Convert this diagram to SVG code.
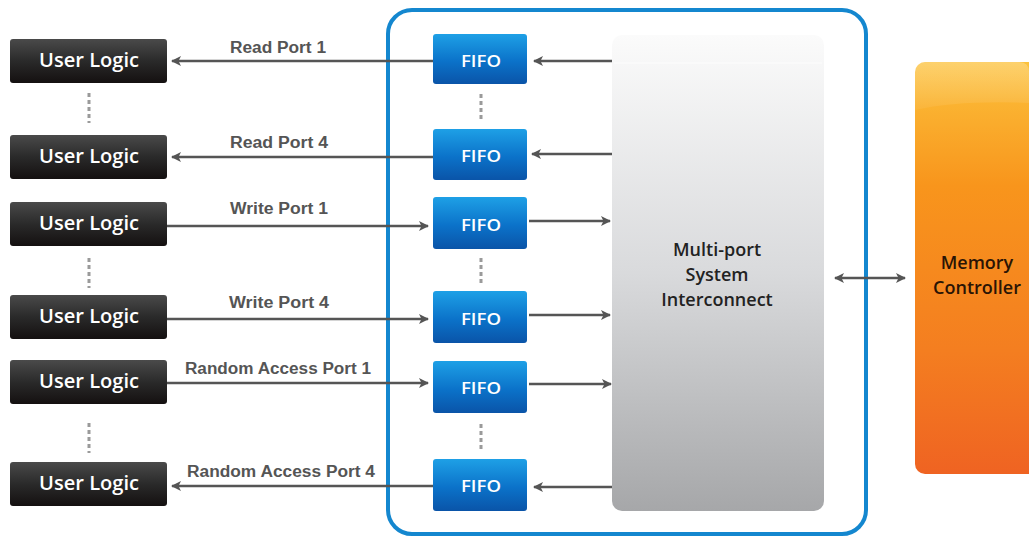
<svg xmlns="http://www.w3.org/2000/svg" width="1029" height="537" viewBox="0 0 1029 537">
<defs>
<linearGradient id="gUL" x1="0" y1="0" x2="0" y2="1">
<stop offset="0" stop-color="#4a4a4a"/><stop offset="0.5" stop-color="#2a2a2a"/><stop offset="1" stop-color="#141010"/>
</linearGradient>
<linearGradient id="gFIFO" x1="0" y1="0" x2="0" y2="1">
<stop offset="0" stop-color="#1ea0e6"/><stop offset="0.55" stop-color="#0b72c9"/><stop offset="1" stop-color="#0a54a8"/>
</linearGradient>
<linearGradient id="gIC" x1="0" y1="0" x2="0" y2="1">
<stop offset="0" stop-color="#fbfbfb"/><stop offset="0.5" stop-color="#d9dadc"/><stop offset="1" stop-color="#a6a7a9"/>
</linearGradient>
<linearGradient id="gMC" x1="0" y1="0" x2="0" y2="1">
<stop offset="0" stop-color="#fcc23c"/><stop offset="0.3" stop-color="#f8951c"/><stop offset="0.7" stop-color="#f47e20"/><stop offset="1" stop-color="#ef6322"/>
</linearGradient>
<linearGradient id="gGloss" x1="0" y1="0" x2="0" y2="1">
<stop offset="0" stop-color="#ffffff" stop-opacity="0.25"/><stop offset="1" stop-color="#ffffff" stop-opacity="0.05"/>
</linearGradient>
<marker id="ah" viewBox="0 0 10 10" refX="9" refY="5" markerWidth="10" markerHeight="10" markerUnits="userSpaceOnUse" orient="auto-start-reverse">
<path d="M0,0 L10,5 L0,10 L2.5,5 Z" fill="#555"/>
</marker>
<style>
.ul rect{fill:url(#gUL);}
.ul text{fill:#fff;font-family:"Open Sans","Liberation Sans",sans-serif;font-weight:600;font-size:19px;text-anchor:middle;}
.fifo rect{fill:url(#gFIFO);}
.fifo text{fill:#fff;font-family:"Open Sans","Liberation Sans",sans-serif;font-weight:600;font-size:17px;text-anchor:middle;}
.lbl{fill:#555;font-family:"Liberation Sans",sans-serif;font-weight:bold;font-size:16px;text-anchor:middle;}
.dots{stroke:#9a9a9a;stroke-width:3;stroke-dasharray:4,3;}
.conn line{stroke:#555;stroke-width:2.5;}
.big{fill:#222;font-family:"Open Sans","Liberation Sans",sans-serif;font-weight:600;font-size:18px;text-anchor:middle;}
</style>
</defs>
<rect width="1029" height="537" fill="#fff"/>

<g id="container">
<rect x="388" y="10" width="478" height="524" rx="24" fill="none" stroke="#1487cf" stroke-width="4"/>
</g>

<g id="interconnect">
<rect x="612" y="35" width="212" height="476" rx="10" fill="url(#gIC)"/>
<line x1="614" y1="63" x2="822" y2="63" stroke="#fff" stroke-opacity="0.7"/>
<text class="big" x="717" y="256">Multi-port</text>
<text class="big" x="717" y="281">System</text>
<text class="big" x="717" y="306">Interconnect</text>
</g>

<g id="memctrl">
<rect x="915" y="62" width="130" height="412" rx="10" fill="url(#gMC)"/>
<path d="M915,110 Q960,100 1029,103 L1029,72 Q1029,62 1019,62 L925,62 Q915,62 915,72 Z" fill="url(#gGloss)"/>
<text class="big" x="977" y="269" style="fill:#2a1405">Memory</text>
<text class="big" x="977" y="294" style="fill:#2a1405">Controller</text>
</g>

<g id="ul1" class="ul"><rect x="10" y="39" width="157" height="44" rx="3"/><text x="89" y="67" textLength="100" lengthAdjust="spacingAndGlyphs">User Logic</text></g>
<g id="ul2" class="ul"><rect x="10" y="135" width="157" height="44" rx="3"/><text x="89" y="163" textLength="100" lengthAdjust="spacingAndGlyphs">User Logic</text></g>
<g id="ul3" class="ul"><rect x="10" y="202" width="157" height="44" rx="3"/><text x="89" y="230" textLength="100" lengthAdjust="spacingAndGlyphs">User Logic</text></g>
<g id="ul4" class="ul"><rect x="10" y="295" width="157" height="44" rx="3"/><text x="89" y="323" textLength="100" lengthAdjust="spacingAndGlyphs">User Logic</text></g>
<g id="ul5" class="ul"><rect x="10" y="360" width="157" height="44" rx="3"/><text x="89" y="388" textLength="100" lengthAdjust="spacingAndGlyphs">User Logic</text></g>
<g id="ul6" class="ul"><rect x="10" y="462" width="157" height="44" rx="3"/><text x="89" y="490" textLength="100" lengthAdjust="spacingAndGlyphs">User Logic</text></g>

<g id="fifo1" class="fifo"><rect x="433" y="34" width="94" height="50" rx="3"/><text x="481" y="67" textLength="40" lengthAdjust="spacingAndGlyphs">FIFO</text></g>
<g id="fifo2" class="fifo"><rect x="433" y="129" width="94" height="51" rx="3"/><text x="481" y="162" textLength="40" lengthAdjust="spacingAndGlyphs">FIFO</text></g>
<g id="fifo3" class="fifo"><rect x="433" y="197" width="94" height="52" rx="3"/><text x="481" y="231" textLength="40" lengthAdjust="spacingAndGlyphs">FIFO</text></g>
<g id="fifo4" class="fifo"><rect x="433" y="291" width="94" height="52" rx="3"/><text x="481" y="325" textLength="40" lengthAdjust="spacingAndGlyphs">FIFO</text></g>
<g id="fifo5" class="fifo"><rect x="433" y="361" width="94" height="52" rx="3"/><text x="481" y="394" textLength="40" lengthAdjust="spacingAndGlyphs">FIFO</text></g>
<g id="fifo6" class="fifo"><rect x="433" y="459" width="94" height="52" rx="3"/><text x="481" y="492" textLength="40" lengthAdjust="spacingAndGlyphs">FIFO</text></g>

<g id="dots">
<line class="dots" x1="89" y1="93" x2="89" y2="123"/>
<line class="dots" x1="89" y1="258" x2="89" y2="288"/>
<line class="dots" x1="89" y1="423" x2="89" y2="453"/>
<line class="dots" x1="481" y1="94" x2="481" y2="121"/>
<line class="dots" x1="481" y1="258" x2="481" y2="286"/>
<line class="dots" x1="481" y1="424" x2="481" y2="452"/>
</g>

<g id="connectors" class="conn">
<line x1="433" y1="61" x2="172" y2="61" marker-end="url(#ah)"/>
<line x1="433" y1="157" x2="172" y2="157" marker-end="url(#ah)"/>
<line x1="167" y1="226" x2="428" y2="226" marker-end="url(#ah)"/>
<line x1="167" y1="319" x2="428" y2="319" marker-end="url(#ah)"/>
<line x1="167" y1="383" x2="428" y2="383" marker-end="url(#ah)"/>
<line x1="433" y1="486" x2="172" y2="486" marker-end="url(#ah)"/>
<line x1="612" y1="61" x2="534" y2="61" marker-end="url(#ah)"/>
<line x1="612" y1="154" x2="532" y2="154" marker-end="url(#ah)"/>
<line x1="529" y1="221" x2="610" y2="221" marker-end="url(#ah)"/>
<line x1="529" y1="315" x2="610" y2="315" marker-end="url(#ah)"/>
<line x1="529" y1="384" x2="611" y2="384" marker-end="url(#ah)"/>
<line x1="612" y1="487" x2="534" y2="487" marker-end="url(#ah)"/>
<line x1="835" y1="278" x2="905" y2="278" marker-start="url(#ah)" marker-end="url(#ah)"/>
</g>

<g id="labels">
<text class="lbl" x="278" y="53" textLength="96" lengthAdjust="spacingAndGlyphs">Read Port 1</text>
<text class="lbl" x="279" y="148" textLength="98" lengthAdjust="spacingAndGlyphs">Read Port 4</text>
<text class="lbl" x="279" y="214" textLength="98" lengthAdjust="spacingAndGlyphs">Write Port 1</text>
<text class="lbl" x="279" y="308" textLength="100" lengthAdjust="spacingAndGlyphs">Write Port 4</text>
<text class="lbl" x="278" y="374" textLength="186" lengthAdjust="spacingAndGlyphs">Random Access Port 1</text>
<text class="lbl" x="281" y="477" textLength="188" lengthAdjust="spacingAndGlyphs">Random Access Port 4</text>
</g>
</svg>
